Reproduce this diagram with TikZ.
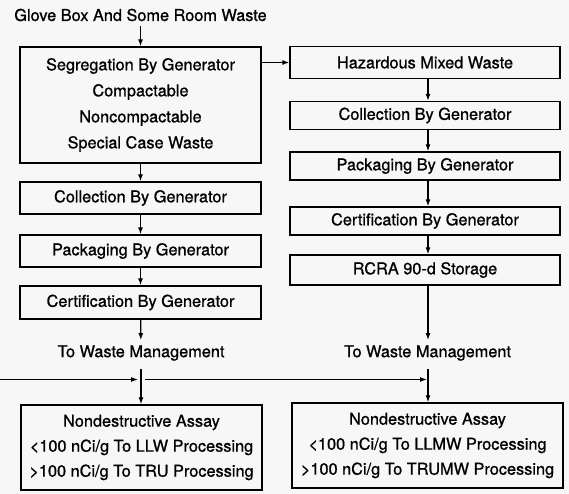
\documentclass[tikz,border=0pt]{standalone}
\usepackage{fontspec}
\setmainfont{TeX Gyre Heros}[FakeBold=0.9]
\usetikzlibrary{arrows.meta}
\begin{document}
\begin{tikzpicture}[x=1pt,y=-1pt,
  every node/.style={font=\fontsize{16.3}{26}\selectfont},
  box/.style={draw, line width=1.3pt, inner sep=0pt, align=center},
  lbl/.style={inner sep=5pt},
  arr/.style={line width=1.2pt, -{Latex[length=7pt,width=5pt]}},
  ln/.style={line width=1.2pt}
]
\fill[black!3] (0,0) rectangle (569,494);
\useasboundingbox (0,0) rectangle (569,494);

% left column
\node[lbl] (title) at (140.5,15) {Glove Box And Some Room Waste};
\node[box, minimum width=241pt, minimum height=116pt] (seg) at (140.5,105)
  {Segregation By Generator\\Compactable\\Noncompactable\\Special Case Waste};
\node[box, minimum width=241pt, minimum height=32pt] (col1) at (140.5,198) {Collection By Generator};
\node[box, minimum width=241pt, minimum height=32pt] (pack1) at (140.5,251) {Packaging By Generator};
\node[box, minimum width=241pt, minimum height=33pt] (cert1) at (140.5,302.5) {Certification By Generator};
\node[lbl] (wm1) at (141,353) {To Waste Management};
\node[box, minimum width=241pt, minimum height=85pt, font=\fontsize{16.3}{25}\selectfont] (nda1) at (141.5,447.5)
  {Nondestructive Assay\\<100 nCi/g To LLW Processing\\>100 nCi/g To TRU Processing};

% right column
\coordinate (rx) at (428,0);
\node[box, minimum width=270pt, minimum height=32pt] (haz) at (425,62.5) {Hazardous Mixed Waste};
\node[box, minimum width=270pt, minimum height=28pt] (col2) at (425,115.5) {Collection By Generator};
\node[box, minimum width=270pt, minimum height=28pt] (pack2) at (425,166) {Packaging By Generator};
\node[box, minimum width=270pt, minimum height=28pt] (cert2) at (425,221) {Certification By Generator};
\node[box, minimum width=270pt, minimum height=30pt] (rcra) at (425,270) {RCRA 90-d Storage};
\node[lbl] (wm2) at (427.5,353) {To Waste Management};
\node[box, minimum width=271pt, minimum height=85pt, font=\fontsize{16.3}{25}\selectfont] (nda2) at (427.5,445.5)
  {Nondestructive Assay\\<100 nCi/g To LLMW Processing\\>100 nCi/g To TRUMW Processing};

% left arrows
\draw[arr] (title) -- (seg);
\draw[arr] (seg) -- (col1);
\draw[arr] (col1) -- (pack1);
\draw[arr] (pack1) -- (cert1);
\draw[arr] (cert1) -- (wm1);
\draw[arr] ([yshift=-3pt]wm1.south) -- (nda1.north -| wm1);

% branch to right
\draw[arr] (seg.east |- haz.west) -- (haz.west);

% right arrows
\draw[arr] (haz.south -| rx) -- (col2.north -| rx);
\draw[arr] (col2.south -| rx) -- (pack2.north -| rx);
\draw[arr] (pack2.south -| rx) -- (cert2.north -| rx);
\draw[arr] (cert2.south -| rx) -- (rcra.north -| rx);
\draw[arr] (rcra.south -| rx) -- (wm2.north -| rx);
\draw[arr] ([yshift=-3pt]wm2.south -| rx) -- (nda2.north -| rx);

% horizontal feed line
\coordinate (in) at (0,379.5);
\coordinate (j1) at (141,379.5);
\coordinate (j2) at (428,379.5);
\draw[arr] (in) -- ([xshift=-3pt]j1);
\draw[arr] ([xshift=4pt]j1) -- ([xshift=-1pt]j2);
\end{tikzpicture}
\end{document}
